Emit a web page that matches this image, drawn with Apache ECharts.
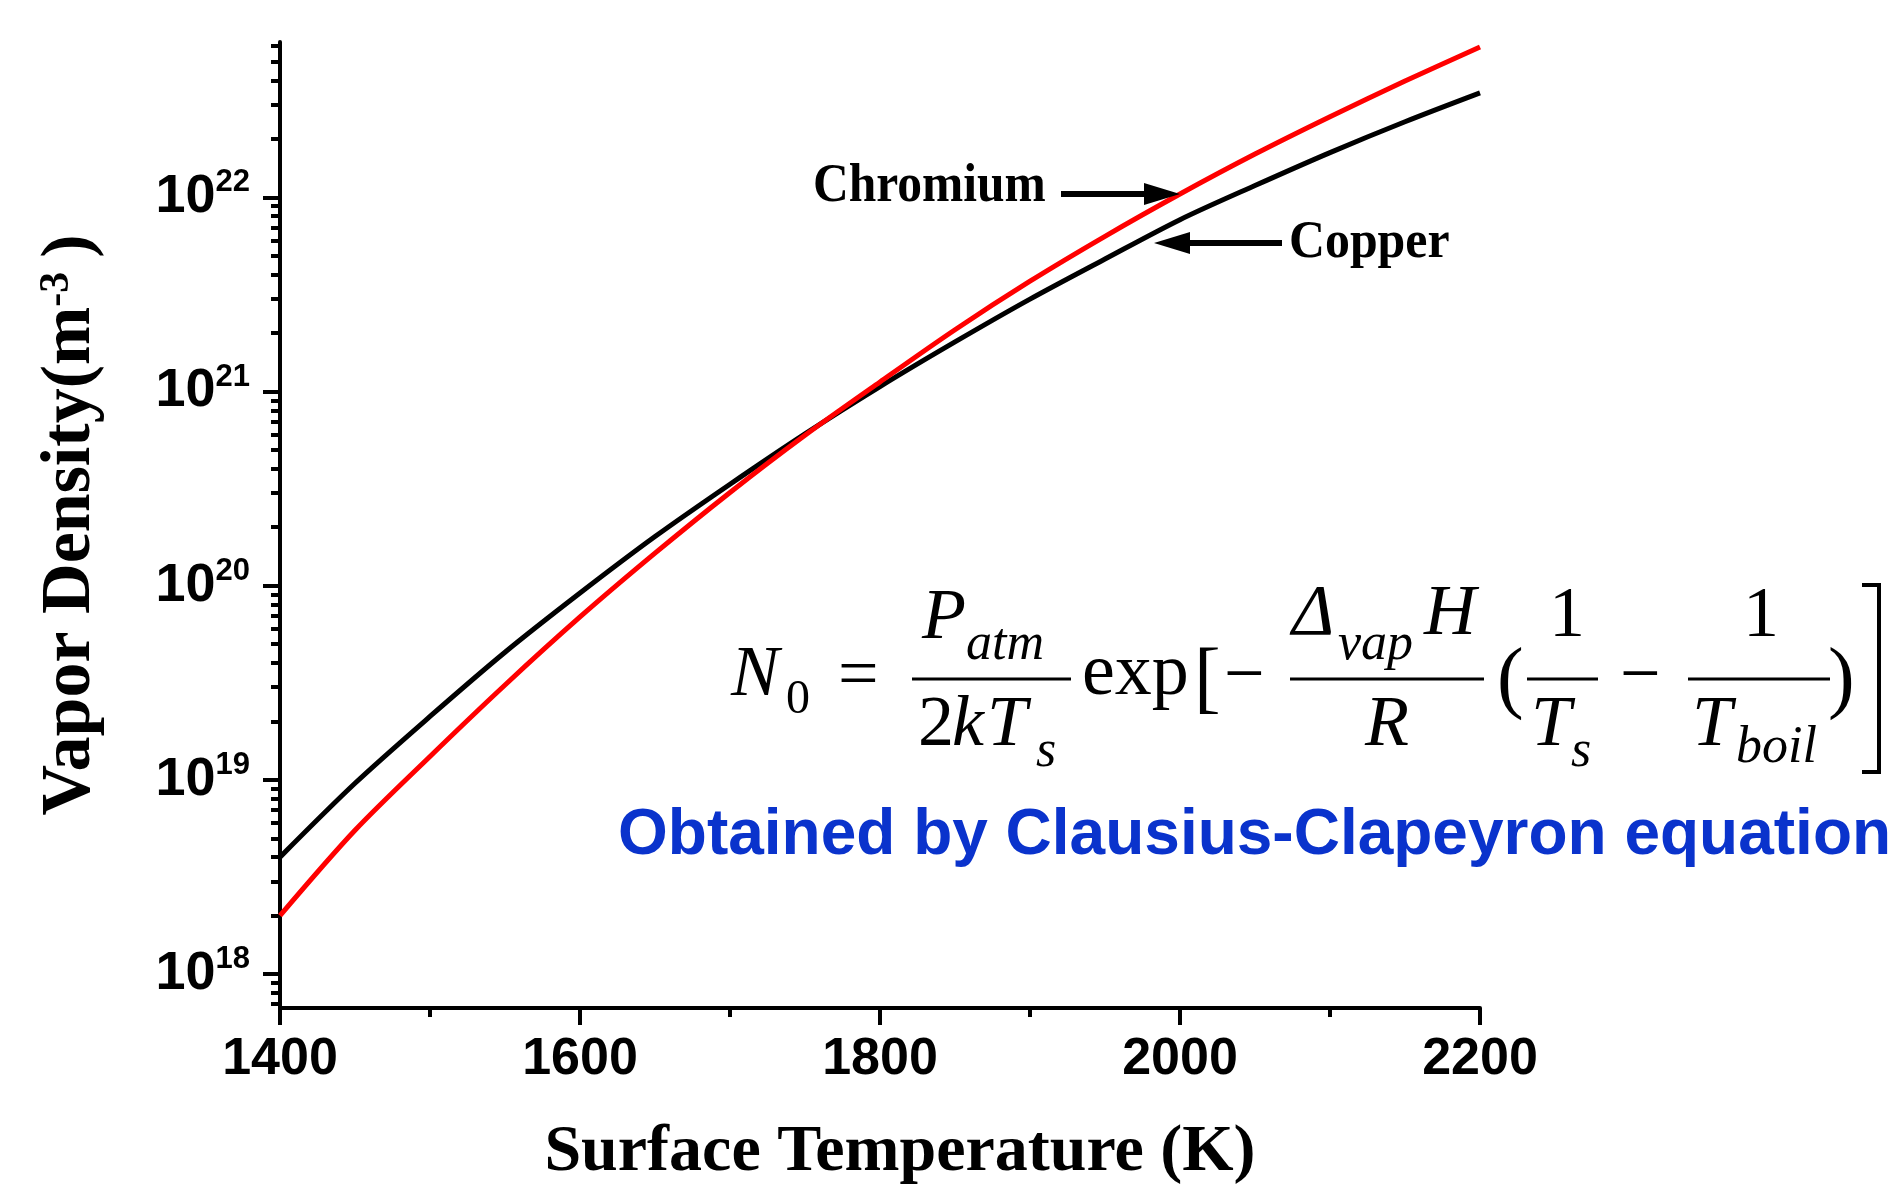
<!DOCTYPE html>
<html>
<head>
<meta charset="utf-8">
<script src="https://cdn.jsdelivr.net/npm/echarts@6/dist/echarts.min.js"></script>
<style>
html,body{margin:0;padding:0;background:#fff;}
#chart{width:1899px;height:1187px;}
</style>
</head>
<body>
<div id="chart"></div>
<script>
// ---- data ----
var temperatures = [1400,1450,1500,1550,1600,1650,1700,1750,1800,1850,1900,1950,2000,2050,2100,2150,2200];
var copper   = [4.0e18, 9.6e18, 2.12e19, 4.54e19, 9.16e19, 1.79e20, 3.33e20, 6.05e20, 1.06e21, 1.80e21, 2.99e21, 4.81e21, 7.67e21, 1.15e22, 1.70e22, 2.45e22, 3.45e22];
var chromium = [2.0e18, 5.5e18, 1.32e19, 3.08e19, 6.9e19, 1.47e20, 3.02e20, 5.95e20, 1.12e21, 2.08e21, 3.70e21, 6.3e21, 1.04e22, 1.67e22, 2.60e22, 3.97e22, 5.94e22];
var yMajorTicks = [1e18, 1e19, 1e20, 1e21, 1e22];
var yMinorTicks = [];
for (var e = 17; e <= 22; e++) { for (var m = 2; m <= 9; m++) { yMinorTicks.push(m * Math.pow(10, e)); } }
var xTickLabels = [1400, 1600, 1800, 2000, 2200];
var yMin = Math.pow(10, 17.825), yMax = Math.pow(10, 22.8);

function pair(xs, ys){ return xs.map(function(x,i){ return [x, ys[i]]; }); }

var chart = echarts.init(document.getElementById('chart'), null, {renderer:'canvas'});
var serif = "'Liberation Serif','Times New Roman',serif";
var sans = "'Liberation Sans',Arial,sans-serif";

var option = {
  backgroundColor: '#ffffff',
  animation: false,
  grid: {left: 280, right: 419, top: 42, bottom: 179, containLabel: false, outerBoundsMode: 'none'},
  xAxis: {
    type: 'value', min: 1400, max: 2200, interval: 200,
    name: 'Surface Temperature (K)', nameLocation: 'middle', nameGap: 112,
    nameTextStyle: {fontFamily: serif, fontWeight: 'bold', fontSize: 66, color: '#000', padding: [0,0,0,40]},
    axisLine: {show: true, onZero: false, lineStyle: {color: '#000', width: 4}},
    axisTick: {show: true, inside: false, length: 17, lineStyle: {color: '#000', width: 4}},
    minorTick: {show: true, splitNumber: 2, length: 9, lineStyle: {color: '#000', width: 4}},
    axisLabel: {margin: 26, fontFamily: sans, fontWeight: 'bold', fontSize: 52, color: '#000',
      customValues: xTickLabels, formatter: function(v){ return String(Math.round(v)); }},
    splitLine: {show: false}, minorSplitLine: {show: false}
  },
  yAxis: [{
    type: 'log', logBase: 10, min: yMin, max: yMax,
    name: '{a|Vapor Density(m}{s|-3}{a|)}', nameLocation: 'middle', nameGap: 174, nameRotate: 90,
    nameTextStyle: {color: '#000', rich: {
      a: {fontFamily: serif, fontWeight: 'bold', fontSize: 70, color: '#000'},
      s: {fontFamily: serif, fontWeight: 'bold', fontSize: 42, color: '#000', verticalAlign: 'top', padding: [0, 14, 0, 0]}
    }},
    axisLine: {show: true, onZero: false, lineStyle: {color: '#000', width: 4}},
    axisTick: {show: true, inside: false, length: 17, lineStyle: {color: '#000', width: 4}, customValues: yMajorTicks},
    axisLabel: {margin: 30, customValues: yMajorTicks,
      formatter: function(v){ return '{b|10}{s|' + Math.round(Math.log10(v)) + '}'; },
      rich: {
        b: {fontFamily: sans, fontWeight: 'bold', fontSize: 54, lineHeight: 60, color: '#000'},
        s: {fontFamily: sans, fontWeight: 'bold', fontSize: 31, lineHeight: 30, verticalAlign: 'top', color: '#000'}
      }},
    splitLine: {show: false}
  }, {
    type: 'log', logBase: 10, min: yMin, max: yMax, position: 'left',
    axisLine: {show: false},
    axisTick: {show: true, inside: false, length: 9, lineStyle: {color: '#000', width: 4}, customValues: yMinorTicks},
    axisLabel: {show: false},
    splitLine: {show: false}
  }],
  series: [{
    name: 'Copper', type: 'line', xAxisIndex: 0, yAxisIndex: 0, data: pair(temperatures, copper),
    smooth: 0.3, showSymbol: false, symbol: 'none', lineStyle: {color: '#000000', width: 5}, z: 3
  }, {
    name: 'Chromium', type: 'line', xAxisIndex: 0, yAxisIndex: 0, data: pair(temperatures, chromium),
    smooth: 0.3, showSymbol: false, symbol: 'none', lineStyle: {color: '#ff0000', width: 5}, z: 4
  }]
};
chart.setOption(option);

// ---- annotations and formula ----
function T(text, x, y, size, italic, extra){
  var st = {text: text, x: 0, y: 0, fill: '#000', fontFamily: serif, fontSize: size,
    fontStyle: italic ? 'italic' : 'normal', fontWeight: 'normal',
    align: 'left', textAlign: 'left', verticalAlign: 'middle', textVerticalAlign: 'middle'};
  if (extra) for (var k in extra) st[k] = extra[k];
  return {type: 'text', x: x, y: y, style: st, z: 10, silent: true};
}
function bar(x1, x2, y){ return {type: 'line', shape: {x1: x1, y1: y, x2: x2, y2: y}, style: {stroke: '#000', lineWidth: 3}, z: 10, silent: true}; }

var crTip = chart.convertToPixel({xAxisIndex: 0, yAxisIndex: 0}, [2000, chromium[12]]);
var cuTip = [1154, 243];

var g = [];
// Chromium label + arrow
g.push({type: 'text', x: 813, y: 187, scaleX: 0.9, style: {text: 'Chromium', fill: '#000', fontFamily: serif, fontWeight: 'bold', fontSize: 55,
  align: 'left', textAlign: 'left', verticalAlign: 'middle', textVerticalAlign: 'middle'}, z: 10});
g.push({type: 'line', shape: {x1: 1061, y1: crTip[1], x2: crTip[0] - 30, y2: crTip[1]}, style: {stroke: '#000', lineWidth: 6}, z: 10});
g.push({type: 'polygon', shape: {points: [[crTip[0], crTip[1]], [crTip[0] - 36, crTip[1] - 11], [crTip[0] - 36, crTip[1] + 11]]}, style: {fill: '#000'}, z: 10});
// Copper label + arrow
g.push({type: 'text', x: 1289, y: 243, scaleX: 0.94, style: {text: 'Copper', fill: '#000', fontFamily: serif, fontWeight: 'bold', fontSize: 53,
  align: 'left', textAlign: 'left', verticalAlign: 'middle', textVerticalAlign: 'middle'}, z: 10});
g.push({type: 'line', shape: {x1: 1282, y1: cuTip[1], x2: cuTip[0] + 30, y2: cuTip[1]}, style: {stroke: '#000', lineWidth: 6}, z: 10});
g.push({type: 'polygon', shape: {points: [[cuTip[0], cuTip[1]], [cuTip[0] + 36, cuTip[1] - 11], [cuTip[0] + 36, cuTip[1] + 11]]}, style: {fill: '#000'}, z: 10});

// Formula
g.push(T('N', 731, 676, 72, true));
g.push(T('0', 786, 700, 48, false));
g.push(T('=', 838, 678, 72, false));
g.push(bar(912, 1071, 679));
g.push(T('P', 922, 619, 72, true));
g.push(T('atm', 966, 645, 52, true));
g.push(T('2', 918, 726, 72, false));
g.push(T('k', 952, 726, 72, true));
g.push(T('T', 987, 726, 72, true));
g.push(T('s', 1036, 752, 52, true));
g.push(T('exp', 1082, 675, 74, false));
g.push(T('[', 1194, 682, 80, false));
g.push(T('\u2212', 1224, 678, 72, false));
g.push(bar(1290, 1484, 679));
g.push(T('\u0394', 1292, 615, 72, true));
g.push(T('vap', 1338, 645, 52, true));
g.push(T('H', 1424, 615, 72, true));
g.push(T('R', 1365, 726, 72, true));
g.push(T('(', 1497, 682, 80, false));
g.push(bar(1527, 1598, 679));
g.push(T('1', 1549, 617, 72, false));
g.push(T('T', 1531, 726, 72, true));
g.push(T('s', 1571, 752, 52, true));
g.push(T('\u2212', 1620, 678, 72, false));
g.push(bar(1688, 1830, 679));
g.push(T('1', 1743, 617, 72, false));
g.push(T('T', 1692, 726, 72, true));
g.push(T('boil', 1736, 748, 52, true));
g.push(T(')', 1828, 682, 80, false));
g.push({type: 'polyline', shape: {points: [[1862, 585], [1879, 585], [1879, 772], [1862, 772]]}, style: {stroke: '#000', lineWidth: 4, fill: null}, z: 10});

// Blue caption
g.push({type: 'text', x: 618, y: 836, style: {text: 'Obtained by Clausius-Clapeyron equation', fill: '#0a33cc', fontFamily: sans, fontWeight: 'bold', fontSize: 64,
  align: 'left', textAlign: 'left', verticalAlign: 'middle', textVerticalAlign: 'middle'}, z: 10});

chart.setOption({graphic: {elements: g}});
</script>
</body>
</html>
